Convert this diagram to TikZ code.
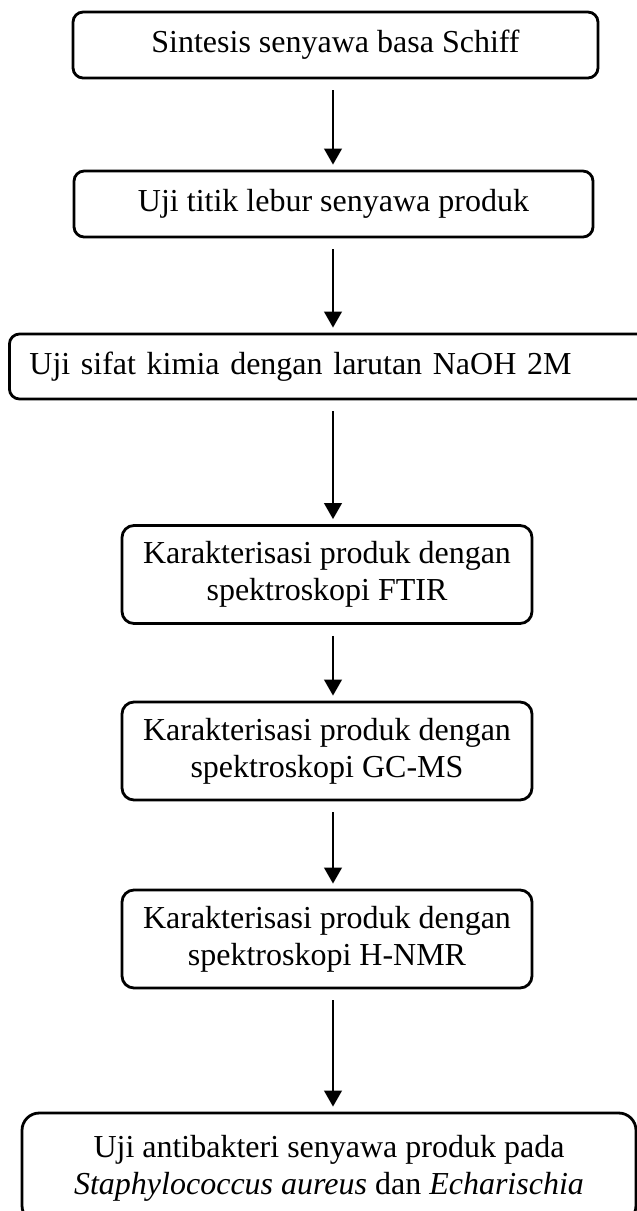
\documentclass[tikz,border=0pt]{standalone}
\usepackage{fontspec}
\setmainfont{Liberation Serif}
\usetikzlibrary{arrows.meta}
\newcommand{\px}{0.375pt}
\tikzset{
  stepbox/.style={
    draw,
    line width = 1.05pt,
    rounded corners = 3.8pt,
    inner sep = 0pt,
    align = center,
    font = \fontsize{12}{13.8}\selectfont
  },
  shortbox/.style={
    stepbox,
    minimum height = 66*\px
  },
  tallbox/.style={
    stepbox,
    rounded corners = 4.5pt,
    minimum width = 410*\px,
    minimum height = 98*\px
  },
  flow/.style={
    line width = 0.85pt,
    shorten < = 11*\px,
    shorten > = 5*\px,
    -{Triangle[width=6.6pt,length=6pt]}
  }
}
\begin{document}
\begin{tikzpicture}[x=\px,y=-\px]
  \useasboundingbox (0,0) rectangle (637,1211);
  \coordinate (axis) at (333,0);
  \node[shortbox, minimum width=525*\px] (b1) at (335.5,45) {Sintesis senyawa basa Schiff};
  \node[shortbox, minimum width=519*\px] (b2) at (333.5,204) {Uji titik lebur senyawa produk};
  \node[shortbox, anchor=west, align=left, inner xsep=20*\px, text width=612*\px,
        minimum height=65*\px] (b3) at (8,366.5) {Uji sifat kimia dengan larutan NaOH 2M};
  \node[tallbox] (b4) at (327,574.5) {Karakterisasi produk dengan\\spektroskopi FTIR};
  \node[tallbox] (b5) at (327,751) {Karakterisasi produk dengan\\spektroskopi GC-MS};
  \node[tallbox] (b6) at (327,939) {Karakterisasi produk dengan\\spektroskopi H-NMR};
  \node[stepbox, rounded corners=6.5pt, minimum width=614*\px, minimum height=110*\px] (b7) at (329,1168)
    {Uji antibakteri senyawa produk pada\\\textit{Staphylococcus aureus} dan \textit{Echarischia}};
  \foreach \a/\b in {b1/b2,b2/b3,b3/b4,b4/b5,b5/b6,b6/b7}{
    \draw[flow] (\a.south -| axis) -- (\b.north -| axis);
  }
\end{tikzpicture}
\end{document}
